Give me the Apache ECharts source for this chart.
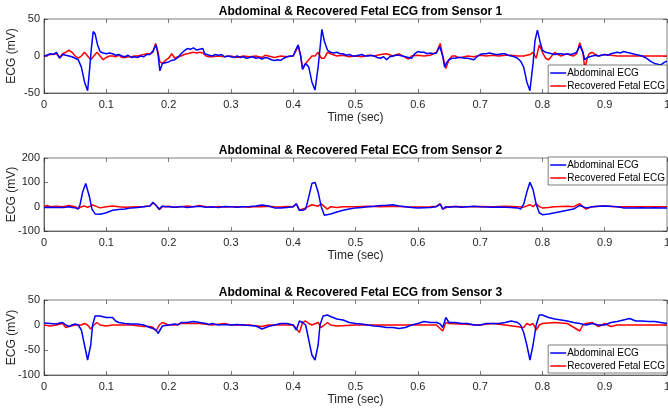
<!DOCTYPE html>
<html>
<head>
<meta charset="utf-8">
<script src="https://cdn.jsdelivr.net/npm/echarts@6/dist/echarts.min.js"></script>
<style>
  html, body { margin: 0; padding: 0; background: #fff; }
  #chart { width: 668px; height: 413px; }
</style>
</head>
<body>
<div id="chart"></div>
<script>
// sensor 1
const abd1 = [[0,0],[0.005,1],[0.01,3],[0.015,2],[0.02,5],[0.025,-3],[0.03,2],[0.035,1],[0.04,0],[0.045,-1],[0.05,-3],[0.055,-5],[0.06,-15],[0.065,-35],[0.07,-47],[0.073,-20],[0.076,10],[0.079,33],[0.082,30],[0.086,15],[0.09,6],[0.095,4],[0.1,3],[0.105,4],[0.11,3],[0.115,1],[0.12,2],[0.125,0],[0.13,-1],[0.135,1],[0.14,-2],[0.145,-1],[0.15,-2],[0.155,0],[0.16,-1],[0.165,2],[0.17,2],[0.175,7],[0.18,15],[0.183,2],[0.186,-20],[0.19,-10],[0.195,-9],[0.2,-8],[0.205,-6],[0.21,-5],[0.215,-2],[0.22,3],[0.225,7],[0.23,10],[0.235,9],[0.24,11],[0.245,8],[0.25,9],[0.255,10],[0.258,3],[0.265,1],[0.27,0],[0.275,2],[0.28,1],[0.285,2],[0.29,-1],[0.295,0],[0.3,-1],[0.305,-2],[0.31,0],[0.315,-2],[0.32,-1],[0.325,-3],[0.33,-2],[0.335,-1],[0.34,-3],[0.345,-2],[0.35,-4],[0.355,-2],[0.36,-3],[0.365,-5],[0.37,-6],[0.375,-5],[0.38,-6],[0.385,-3],[0.39,-1],[0.395,0],[0.4,0],[0.404,8],[0.408,15],[0.412,0],[0.415,-18],[0.42,-10],[0.425,-15],[0.43,-35],[0.435,-46],[0.44,-15],[0.443,10],[0.446,36],[0.45,20],[0.455,8],[0.46,5],[0.465,4],[0.47,5],[0.475,3],[0.48,3],[0.485,1],[0.49,2],[0.495,0],[0.5,0],[0.505,1],[0.51,2],[0.515,0],[0.52,0],[0.525,1],[0.53,0],[0.535,-2],[0.54,-3],[0.545,-1],[0.55,-5],[0.555,-1],[0.56,0],[0.565,1],[0.57,1],[0.575,0],[0.58,-1],[0.585,-2],[0.59,-3],[0.595,3],[0.6,6],[0.605,5],[0.61,5],[0.615,3],[0.62,4],[0.625,3],[0.63,4],[0.635,13],[0.64,0],[0.643,-15],[0.647,-8],[0.65,-5],[0.655,-3],[0.66,-3],[0.665,-2],[0.67,-2],[0.675,-3],[0.68,-3],[0.685,-4],[0.69,-5],[0.695,-1],[0.7,2],[0.705,3],[0.71,3],[0.715,4],[0.72,3],[0.725,2],[0.73,2],[0.735,3],[0.74,3],[0.745,1],[0.75,0],[0.755,-1],[0.76,-3],[0.765,-7],[0.77,-15],[0.775,-35],[0.78,-47],[0.785,-10],[0.788,20],[0.792,35],[0.796,20],[0.8,8],[0.805,5],[0.81,4],[0.815,3],[0.82,2],[0.825,3],[0.83,3],[0.835,2],[0.84,3],[0.845,2],[0.85,3],[0.855,5],[0.86,14],[0.865,5],[0.868,-5],[0.872,-2],[0.875,0],[0.88,0],[0.885,1],[0.89,0],[0.895,1],[0.9,2],[0.905,1],[0.91,3],[0.915,4],[0.92,5],[0.925,4],[0.93,6],[0.935,5],[0.94,4],[0.945,3],[0.95,2],[0.955,1],[0.96,0],[0.965,-2],[0.97,-5],[0.975,-8],[0.98,-10],[0.985,-11],[0.99,-12],[0.995,-9],[1,-7]]
const fet1 = [[0,0],[0.01,2],[0.02,3],[0.025,-2],[0.03,3],[0.035,5],[0.04,8],[0.045,5],[0.05,0],[0.055,-3],[0.06,0],[0.065,5],[0.07,0],[0.075,-5],[0.08,0],[0.085,5],[0.09,0],[0.095,-5],[0.1,-2],[0.105,0],[0.11,0],[0.115,-1],[0.12,1],[0.125,-2],[0.13,-2],[0.135,-1],[0.14,-1],[0.145,0],[0.15,0],[0.155,1],[0.16,2],[0.165,3],[0.17,3],[0.175,5],[0.179,17],[0.183,5],[0.186,-8],[0.19,-10],[0.195,-6],[0.2,-3],[0.205,3],[0.21,-3],[0.215,-1],[0.22,0],[0.225,2],[0.23,3],[0.235,4],[0.24,5],[0.245,4],[0.25,5],[0.255,4],[0.26,0],[0.265,-1],[0.27,-1],[0.28,0],[0.29,-1],[0.3,0],[0.31,-2],[0.32,0],[0.33,-1],[0.34,0],[0.35,-2],[0.355,1],[0.36,0],[0.37,-2],[0.38,0],[0.39,-1],[0.4,0],[0.405,8],[0.408,14],[0.412,0],[0.415,-17],[0.42,-10],[0.425,-5],[0.43,0],[0.435,0],[0.44,5],[0.445,-3],[0.45,-3],[0.455,5],[0.46,3],[0.47,0],[0.48,1],[0.49,-1],[0.5,0],[0.51,-1],[0.52,1],[0.53,0],[0.54,2],[0.55,3],[0.56,0],[0.57,3],[0.58,-2],[0.585,-4],[0.59,0],[0.6,1],[0.61,0],[0.62,1],[0.63,5],[0.636,17],[0.64,0],[0.645,-17],[0.65,-5],[0.655,0],[0.66,0],[0.665,-2],[0.67,-2],[0.68,0],[0.69,-1],[0.7,1],[0.71,0],[0.72,1],[0.73,0],[0.74,1],[0.75,1],[0.76,0],[0.77,0],[0.78,2],[0.785,5],[0.79,-3],[0.795,15],[0.8,5],[0.805,-3],[0.81,-5],[0.815,0],[0.82,5],[0.825,2],[0.83,0],[0.835,2],[0.84,3],[0.845,1],[0.85,0],[0.855,3],[0.86,18],[0.865,5],[0.868,-17],[0.872,-3],[0.875,3],[0.88,5],[0.885,2],[0.89,0],[0.9,2],[0.91,1],[0.92,0],[1,0]]

// sensor 2
const abd2 = [[0,-3],[0.01,-2],[0.02,-3],[0.03,-3],[0.035,-2],[0.04,0],[0.045,-3],[0.05,-5],[0.055,-10],[0.058,10],[0.062,60],[0.067,95],[0.07,90],[0.073,40],[0.077,-10],[0.082,-30],[0.09,-31],[0.1,-25],[0.11,-15],[0.12,-12],[0.13,-10],[0.14,-5],[0.15,-3],[0.16,0],[0.17,3],[0.175,18],[0.18,5],[0.185,-10],[0.19,3],[0.195,0],[0.2,0],[0.21,-2],[0.22,1],[0.23,-3],[0.24,0],[0.25,2],[0.26,-2],[0.27,0],[0.28,-3],[0.29,1],[0.3,0],[0.31,-2],[0.32,0],[0.33,1],[0.34,3],[0.35,7],[0.36,3],[0.37,-5],[0.38,-5],[0.39,-3],[0.4,0],[0.405,12],[0.41,-15],[0.415,-15],[0.42,-10],[0.425,40],[0.43,95],[0.435,100],[0.44,60],[0.445,0],[0.45,-35],[0.46,-30],[0.47,-22],[0.48,-15],[0.49,-10],[0.5,-5],[0.51,-3],[0.52,0],[0.53,2],[0.54,5],[0.55,6],[0.56,8],[0.57,3],[0.58,0],[0.59,-3],[0.6,-5],[0.61,-4],[0.62,-3],[0.63,0],[0.636,10],[0.64,-10],[0.645,0],[0.65,-2],[0.66,1],[0.67,-2],[0.68,0],[0.69,2],[0.7,0],[0.71,-1],[0.72,-2],[0.73,-1],[0.74,-2],[0.75,-3],[0.76,-5],[0.765,-10],[0.77,10],[0.775,60],[0.78,100],[0.785,70],[0.79,10],[0.795,-25],[0.8,-33],[0.81,-30],[0.82,-25],[0.83,-20],[0.84,-15],[0.85,-10],[0.86,5],[0.865,0],[0.87,-5],[0.88,0],[0.89,2],[0.9,3],[0.91,2],[0.92,0],[0.93,-5],[0.94,-5],[0.95,-5],[0.96,-4],[0.97,-5],[0.98,-4],[0.99,-5],[1,-5]]
const fet2 = [[0,0],[0.005,5],[0.01,0],[0.02,2],[0.03,0],[0.04,5],[0.05,0],[0.055,-8],[0.06,0],[0.065,3],[0.07,-3],[0.078,7],[0.085,0],[0.09,-5],[0.1,0],[0.11,3],[0.12,0],[0.13,-2],[0.15,0],[0.16,1],[0.17,3],[0.175,15],[0.18,5],[0.185,-12],[0.19,0],[0.2,2],[0.21,-2],[0.22,0],[0.23,3],[0.24,0],[0.25,5],[0.26,0],[0.27,-2],[0.28,1],[0.29,-1],[0.3,0],[0.32,0],[0.33,-2],[0.34,1],[0.35,0],[0.36,2],[0.37,0],[0.38,-1],[0.39,1],[0.4,0],[0.405,12],[0.41,-15],[0.42,-5],[0.43,8],[0.44,2],[0.445,12],[0.45,0],[0.455,-10],[0.46,0],[0.47,-3],[0.48,0],[0.5,0],[0.52,2],[0.54,0],[0.56,2],[0.58,0],[0.6,-1],[0.62,0],[0.63,2],[0.636,12],[0.64,-10],[0.65,0],[0.66,1],[0.68,0],[0.7,1],[0.72,0],[0.74,2],[0.76,0],[0.77,-2],[0.78,8],[0.785,0],[0.79,12],[0.795,0],[0.8,-5],[0.81,-3],[0.82,0],[0.84,2],[0.85,0],[0.86,12],[0.865,0],[0.87,-10],[0.88,0],[0.9,3],[0.91,1],[0.92,0],[1,0]]

// sensor 3
const abd3 = [[0,4],[0.01,3],[0.02,2],[0.025,4],[0.03,5],[0.035,0],[0.04,-3],[0.045,0],[0.05,2],[0.055,0],[0.06,-10],[0.065,-40],[0.07,-70],[0.075,-40],[0.078,0],[0.082,18],[0.09,18],[0.1,15],[0.11,15],[0.115,8],[0.12,5],[0.13,3],[0.14,2],[0.15,2],[0.16,0],[0.17,-5],[0.175,-7],[0.18,-10],[0.183,-17],[0.19,-2],[0.2,0],[0.21,2],[0.215,0],[0.22,5],[0.23,5],[0.24,7],[0.25,5],[0.26,3],[0.265,1],[0.27,3],[0.28,0],[0.29,1],[0.3,0],[0.31,1],[0.32,0],[0.33,-1],[0.34,-2],[0.35,-8],[0.36,-3],[0.37,0],[0.38,3],[0.39,3],[0.4,0],[0.405,-10],[0.41,8],[0.415,5],[0.42,0],[0.425,-30],[0.43,-60],[0.435,-70],[0.44,-40],[0.443,0],[0.448,18],[0.455,20],[0.46,17],[0.47,12],[0.48,10],[0.49,5],[0.5,3],[0.51,2],[0.52,0],[0.53,-2],[0.54,-3],[0.55,-5],[0.56,-5],[0.57,-7],[0.58,-5],[0.59,0],[0.6,3],[0.61,7],[0.62,5],[0.63,5],[0.636,2],[0.64,-5],[0.645,15],[0.65,5],[0.66,5],[0.67,3],[0.68,3],[0.69,0],[0.7,0],[0.71,3],[0.72,3],[0.73,3],[0.74,5],[0.75,8],[0.76,5],[0.765,0],[0.77,-15],[0.775,-40],[0.78,-70],[0.785,-40],[0.79,0],[0.795,20],[0.8,20],[0.81,15],[0.82,12],[0.83,10],[0.84,8],[0.85,5],[0.86,3],[0.87,0],[0.88,3],[0.89,0],[0.9,0],[0.91,5],[0.92,7],[0.93,10],[0.94,13],[0.95,8],[0.96,8],[0.97,7],[0.98,7],[0.99,5],[1,3]]
const fet3 = [[0,0],[0.01,-2],[0.02,0],[0.03,3],[0.035,-5],[0.04,-3],[0.05,0],[0.06,0],[0.065,3],[0.07,0],[0.075,-8],[0.08,0],[0.085,5],[0.09,0],[0.1,-2],[0.11,0],[0.12,0],[0.14,0],[0.16,-3],[0.17,-3],[0.175,-5],[0.18,-12],[0.185,0],[0.19,5],[0.2,0],[0.21,0],[0.22,3],[0.25,3],[0.27,0],[0.29,3],[0.3,0],[0.33,0],[0.35,-3],[0.36,0],[0.4,0],[0.41,-15],[0.415,5],[0.42,8],[0.425,3],[0.43,0],[0.44,5],[0.445,-5],[0.45,0],[0.455,5],[0.46,0],[0.47,-2],[0.5,0],[0.55,0],[0.6,0],[0.63,0],[0.64,-12],[0.645,5],[0.65,3],[0.7,0],[0.72,3],[0.74,0],[0.77,-5],[0.775,3],[0.78,0],[0.785,3],[0.79,-10],[0.795,0],[0.8,3],[0.82,5],[0.84,3],[0.86,-12],[0.865,0],[0.87,3],[0.88,5],[0.89,-3],[0.9,3],[0.91,-3],[0.92,0],[1,0]]

const titles = [
  'Abdominal & Recovered Fetal ECG from Sensor 1',
  'Abdominal & Recovered Fetal ECG from Sensor 2',
  'Abdominal & Recovered Fetal ECG from Sensor 3'
]
const yRanges = [[-50, 50, 50], [-100, 200, 100], [-100, 50, 50]]
const seriesNames = ['Abdominal ECG', 'Recovered Fetal ECG']

const FONT = '"Liberation Sans", Arial, Helvetica, sans-serif'
const AXIS = '#262626'
const LEFT = 44
const RIGHT = 1
const panels = [
  { top: 19, height: 74, legendTop: 65 },
  { top: 158, height: 73, legendTop: 157 },
  { top: 300, height: 75, legendTop: 345 }
]
const centerX = LEFT + (668 - LEFT - RIGHT) / 2

const chart = echarts.init(document.getElementById('chart'), null, { renderer: 'canvas' })

const grid = []
const xAxis = []
const yAxis = []
const title = []
const legend = []
const series = []
const data = [[abd1, fet1], [abd2, fet2], [abd3, fet3]]

panels.forEach((p, i) => {
  const [yMin, yMax, yStep] = yRanges[i]
  grid.push({
    left: LEFT, right: RIGHT, top: p.top, height: p.height,
    outerBoundsMode: 'none', containLabel: false,
    show: true, borderColor: AXIS, borderWidth: 0.6, backgroundColor: '#fff'
  })
  title.push({
    text: titles[i],
    left: centerX,
    textAlign: 'center',
    top: p.top - 18,
    textStyle: { fontFamily: FONT, fontSize: 12, fontWeight: 'bold', color: '#000' }
  })
  const tickStyle = { show: true, inside: true, length: 4, lineStyle: { color: AXIS, width: 0.6 } }
  xAxis.push({
    type: 'value', gridIndex: i, min: 0, max: 1, interval: 0.1, position: 'bottom',
    name: 'Time (sec)', nameLocation: 'middle', nameGap: 19, nameMoveOverlap: false,
    nameTextStyle: { fontFamily: FONT, fontSize: 12, color: AXIS },
    axisLine: { show: true, onZero: false, lineStyle: { color: AXIS, width: 0.6 } },
    axisTick: tickStyle,
    splitLine: { show: false },
    axisLabel: {
      fontFamily: FONT, fontSize: 11, color: AXIS, margin: 6,
      formatter: v => String(Math.round(v * 10) / 10)
    }
  })
  xAxis.push({
    type: 'value', gridIndex: i, min: 0, max: 1, interval: 0.1, position: 'top',
    axisLine: { show: false, onZero: false }, axisTick: tickStyle,
    axisLabel: { show: false }, splitLine: { show: false }
  })
  yAxis.push({
    type: 'value', gridIndex: i, min: yMin, max: yMax, interval: yStep, position: 'left',
    name: 'ECG (mV)', nameLocation: 'middle', nameGap: 26, nameRotate: 90, nameMoveOverlap: false,
    nameTextStyle: { fontFamily: FONT, fontSize: 12, color: AXIS },
    axisLine: { show: true, onZero: false, lineStyle: { color: AXIS, width: 0.6 } },
    axisTick: tickStyle,
    splitLine: { show: false },
    axisLabel: { fontFamily: FONT, fontSize: 11, color: AXIS, margin: 4 }
  })
  yAxis.push({
    type: 'value', gridIndex: i, min: yMin, max: yMax, interval: yStep, position: 'right',
    axisLine: { show: false, onZero: false }, axisTick: tickStyle,
    axisLabel: { show: false }, splitLine: { show: false }
  })
  legend.push({
    data: seriesNames,
    orient: 'vertical',
    right: RIGHT, top: p.legendTop,
    backgroundColor: '#fff', borderColor: AXIS, borderWidth: 0.6,
    padding: [2, 2, 1, 2], itemGap: 1,
    icon: 'rect', itemWidth: 16, itemHeight: 1.5,
    textStyle: { fontFamily: FONT, fontSize: 10, lineHeight: 12, color: '#000', padding: [0, 0, 0, -4] },
    selectedMode: false
  })
  ;['#0000ff', '#ff0000'].forEach((color, k) => {
    series.push({
      name: seriesNames[k],
      type: 'line',
      xAxisIndex: i * 2,
      yAxisIndex: i * 2,
      data: data[i][k],
      showSymbol: false,
      symbol: 'none',
      itemStyle: { color },
      lineStyle: { color, width: 1.5 },
      z: 3 - k
    })
  })
})

chart.setOption({
  animation: false,
  backgroundColor: '#fff',
  title,
  grid,
  xAxis,
  yAxis,
  legend,
  series
})
</script>
</body>
</html>
